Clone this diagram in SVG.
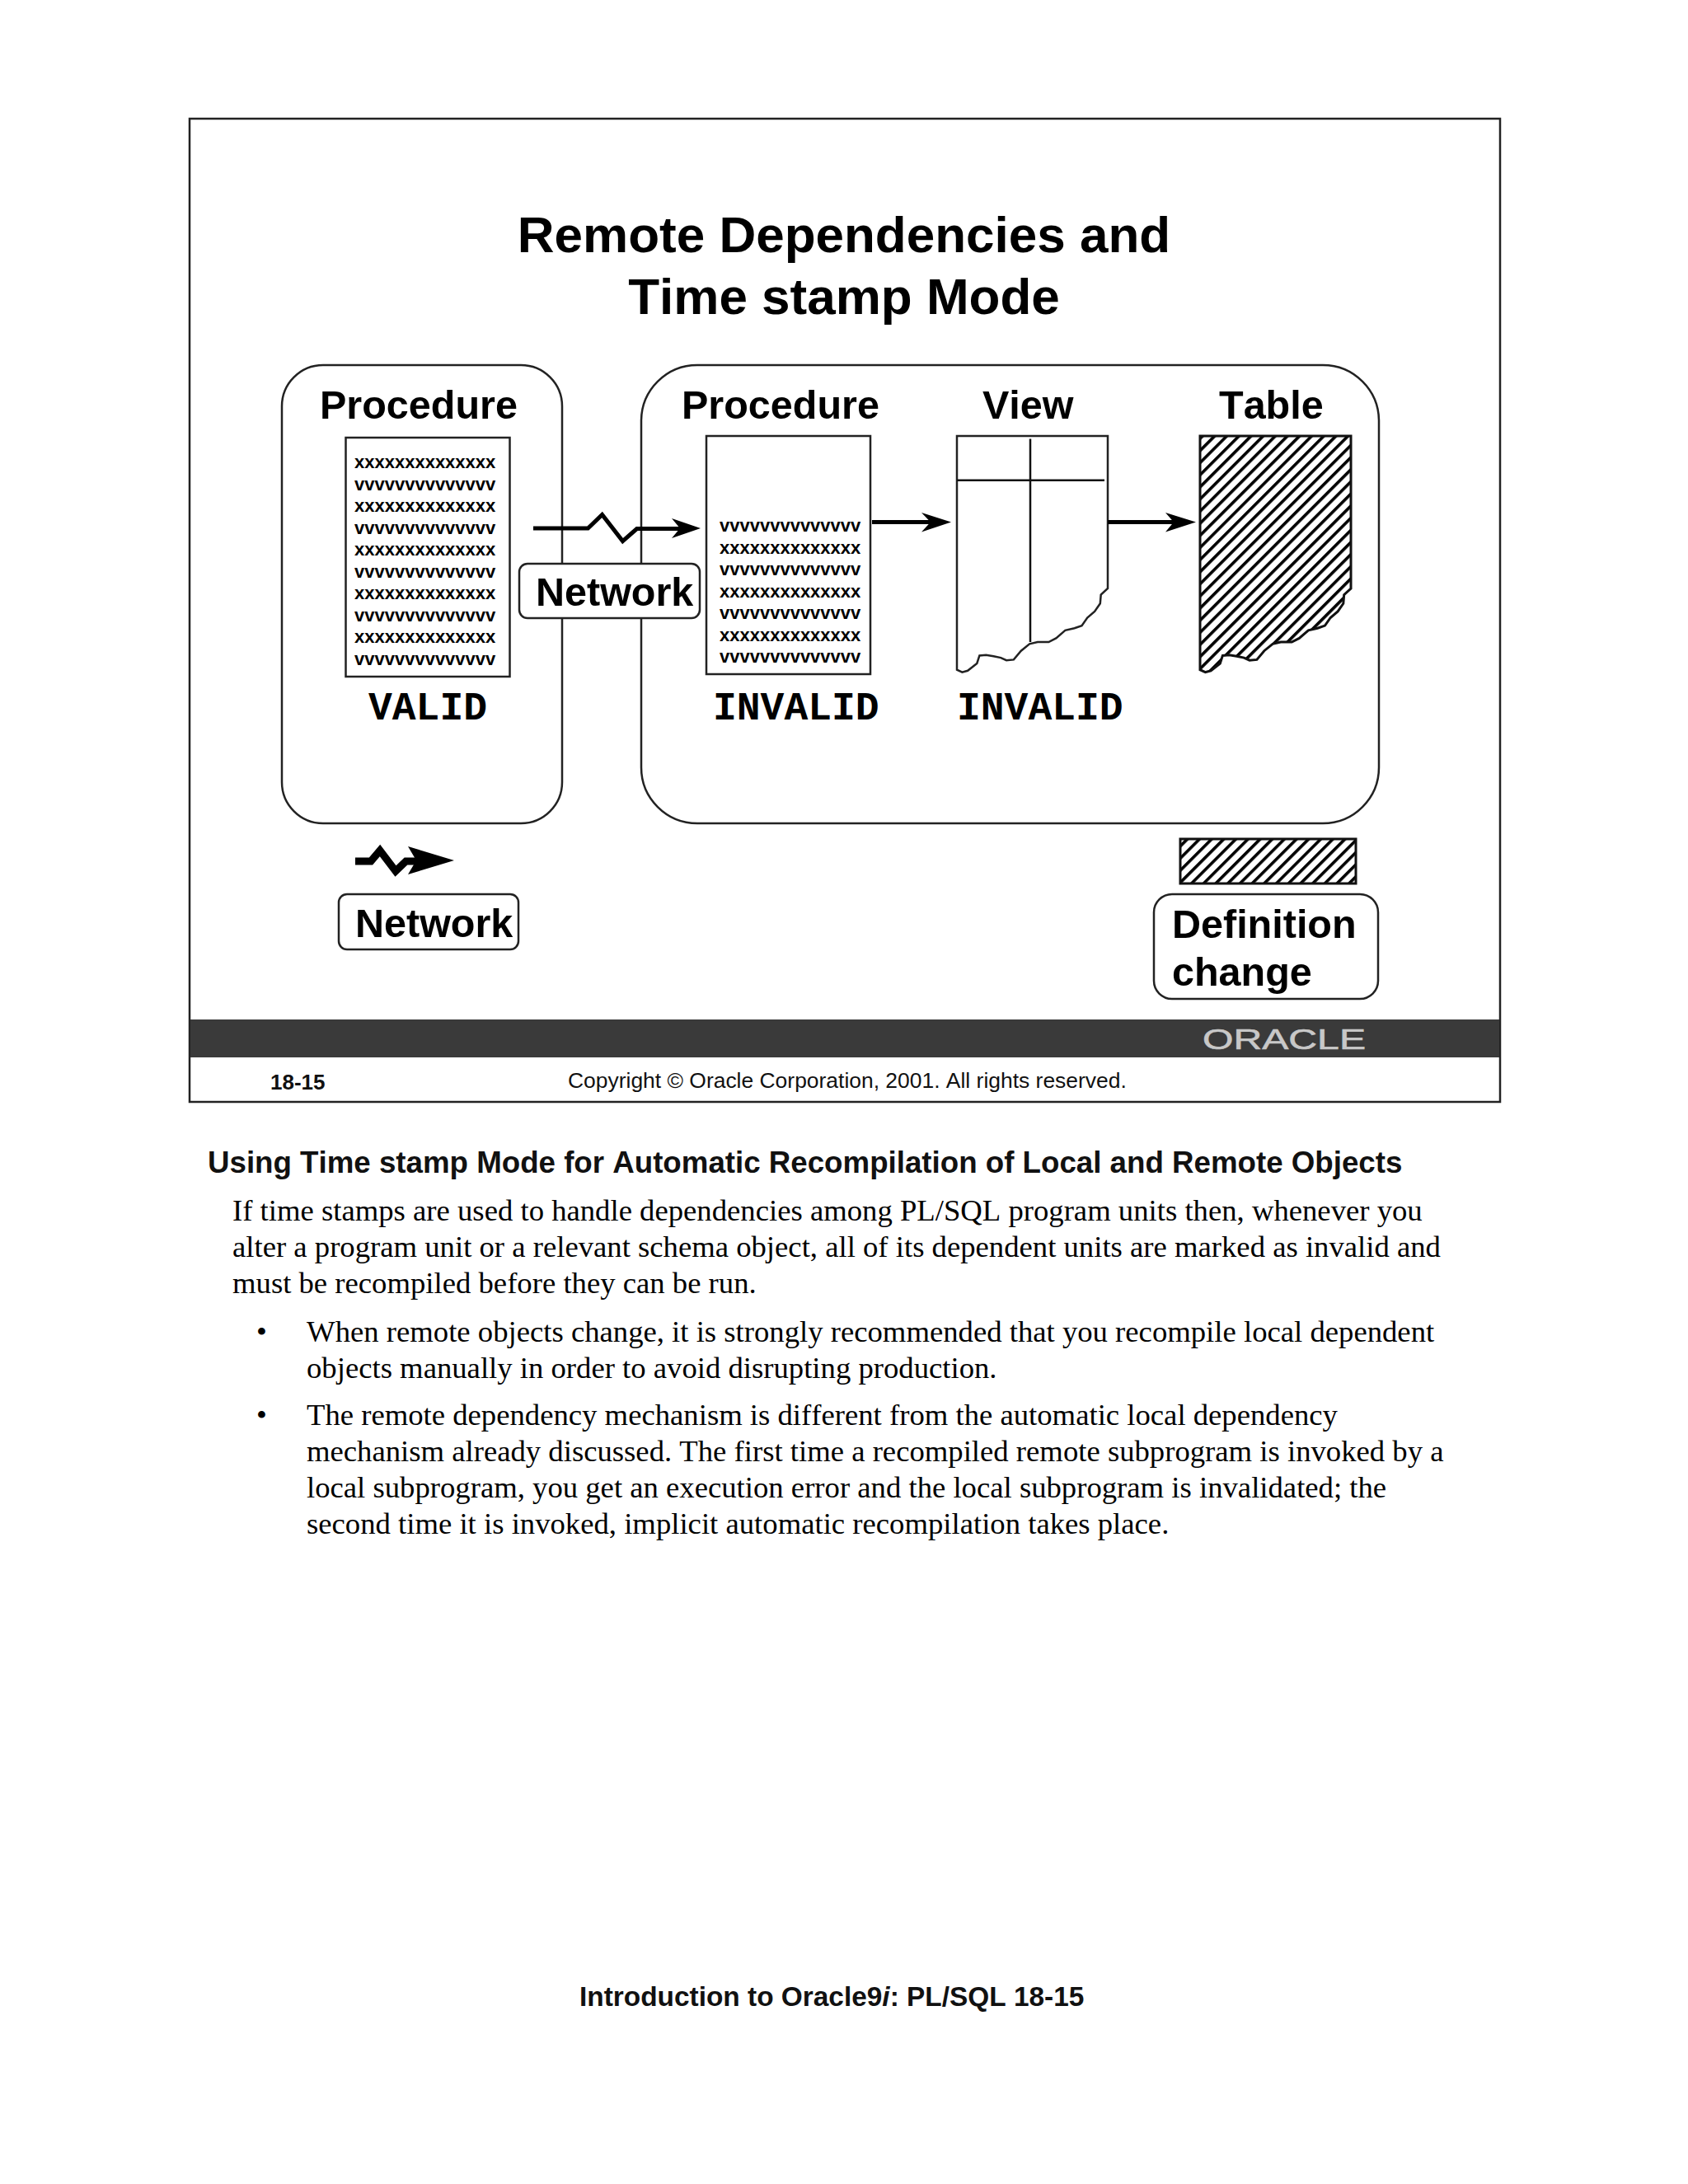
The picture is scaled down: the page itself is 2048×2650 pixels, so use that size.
<svg xmlns="http://www.w3.org/2000/svg" width="2048" height="2650" viewBox="0 0 2048 2650">
<style>
text{font-kerning:none}
.a{font-family:"Liberation Sans",Arial,sans-serif}
.b{font-weight:bold}
.h{font-size:48.5px;font-weight:bold;font-family:"Liberation Sans",Arial,sans-serif;fill:#000}
.t{font-size:62px;font-weight:bold;text-anchor:middle;font-family:"Liberation Sans",Arial,sans-serif}
.m{font-size:48px;font-weight:bold;font-family:"Liberation Mono","Courier New",monospace}
.c{font-size:22px;font-weight:bold;font-family:"Liberation Sans",Arial,sans-serif}
.s{font-size:36.7px;font-family:"Liberation Serif","Times New Roman",serif}
.box{fill:#fff;stroke:#222;stroke-width:2.5}
.doc{fill:#fff;stroke:#222;stroke-width:2.5}
.ln{fill:none;stroke:#000;stroke-width:5}
.ah{fill:#000}
.hat{fill:url(#hatch);stroke:#111;stroke-width:3}
</style>
<defs>
<pattern id="hatch" patternUnits="userSpaceOnUse" width="10.4" height="10.4" patternTransform="rotate(-45)">
<rect width="10.4" height="10.4" fill="#fff"/><rect width="10.4" height="3.6" fill="#000"/>
</pattern>
</defs>
<rect width="2048" height="2650" fill="#fff"/>
<g id="slide">
<rect x="230" y="144" width="1590" height="1193" fill="#fff" stroke="#222" stroke-width="2.5"/>
<rect x="231" y="1237" width="1588" height="46" fill="#3a3a3a"/>
<text x="1459" y="1273" class="a" font-size="35" fill="#c8c8c8" stroke="#c8c8c8" stroke-width="0.6" textLength="198" lengthAdjust="spacingAndGlyphs">ORACLE</text>
<text x="328" y="1322" class="a b" font-size="26" fill="#111">18-15</text>
<text x="689" y="1320" class="a" font-size="26.45" fill="#111">Copyright © Oracle Corporation, 2001. All rights reserved.</text>
<text x="1024" y="306" class="t">Remote Dependencies and</text>
<text x="1024" y="381" class="t">Time stamp Mode</text>
</g>
<g id="local-group">
<rect x="342" y="443" width="340" height="556" rx="50" class="box"/>
<text x="388" y="508" class="h">Procedure</text>
</g>
<g id="remote-group">
<rect x="778" y="443" width="895" height="556" rx="68" class="box"/>
<text x="827" y="508" class="h">Procedure</text>
<text x="1192" y="508" class="h">View</text>
<text x="1479" y="508" class="h">Table</text>
</g>
<g id="local-procedure">
<rect x="419.500" y="531" width="199" height="290" class="doc"/>
<text x="430" y="568" class="c">xxxxxxxxxxxxxx</text>
<text x="430" y="594.500" class="c">vvvvvvvvvvvvvv</text>
<text x="430" y="621" class="c">xxxxxxxxxxxxxx</text>
<text x="430" y="647.500" class="c">vvvvvvvvvvvvvv</text>
<text x="430" y="674" class="c">xxxxxxxxxxxxxx</text>
<text x="430" y="700.500" class="c">vvvvvvvvvvvvvv</text>
<text x="430" y="727" class="c">xxxxxxxxxxxxxx</text>
<text x="430" y="753.500" class="c">vvvvvvvvvvvvvv</text>
<text x="430" y="780" class="c">xxxxxxxxxxxxxx</text>
<text x="430" y="806.500" class="c">vvvvvvvvvvvvvv</text>
<text x="447" y="873" class="m">VALID</text>
</g>
<g id="remote-procedure">
<rect x="857" y="529" width="199" height="289" class="doc"/>
<text x="873" y="645" class="c">vvvvvvvvvvvvvv</text>
<text x="873" y="671.500" class="c">xxxxxxxxxxxxxx</text>
<text x="873" y="698" class="c">vvvvvvvvvvvvvv</text>
<text x="873" y="724.500" class="c">xxxxxxxxxxxxxx</text>
<text x="873" y="751" class="c">vvvvvvvvvvvvvv</text>
<text x="873" y="777.500" class="c">xxxxxxxxxxxxxx</text>
<text x="873" y="804" class="c">vvvvvvvvvvvvvv</text>
<text x="865" y="873" class="m">INVALID</text>
</g>
<g id="view">
<path class="doc" d="M1161 529H1344V714L1335.700 721.600 1334.800 732.300 1328.100 741.900 1319.200 749.500 1312.500 759.100 1303.600 762.200 1292.400 764.900 1281.300 774.400 1272.300 779 1258.900 779 1249.100 781.300 1238.800 789.700 1229.900 800.400 1221 801.200 1214.300 798.100 1205.400 796.200 1196.400 794.700 1188.400 795.400 1185.300 805 1174.100 813.800 1167.400 815.700 1161 812.700Z"/>
<path d="M1250 532.500V779M1161 582.700H1340" fill="none" stroke="#111" stroke-width="2.500"/>
<text x="1161" y="873" class="m">INVALID</text>
</g>
<g id="table">
<path class="hat" d="M1456 529H1639V714L1630.700 721.600 1629.800 732.300 1623.100 741.900 1614.200 749.500 1607.500 759.100 1598.600 762.200 1587.400 764.900 1576.300 774.400 1567.300 779 1553.900 779 1544.100 781.300 1533.800 789.700 1524.900 800.400 1516 801.200 1509.300 798.100 1500.400 796.200 1491.400 794.700 1483.400 795.400 1480.300 805 1469.100 813.800 1462.400 815.700 1456 812.700Z"/>
</g>
<g id="connectors">
<path class="ln" d="M647 641H713.400L730.600 624.400 755.500 656.600 772.700 641.600H825"/>
<path class="ah" d="M850 641L815 629 825 641 815 653Z"/>
<path class="ln" d="M1058 633.600H1129"/>
<path class="ah" d="M1154 633.600L1118 622 1129 633.600 1118 645.500Z"/>
<path class="ln" d="M1344 633.600H1424"/>
<path class="ah" d="M1451 633.600L1414 622 1424 633.600 1414 645.500Z"/>
</g>
<g id="network-label">
<rect x="630" y="684" width="219" height="66" rx="10" class="box"/>
<text x="650" y="735" class="h">Network</text>
</g>
<g id="legend-network">
<path d="M431 1045H450L461 1032 480 1057 492.500 1045H510" fill="none" stroke="#000" stroke-width="9"/>
<path class="ah" d="M551 1044L495 1027 505 1044 495 1061Z"/>
<rect x="411" y="1085" width="218" height="67" rx="10" class="box"/>
<text x="431" y="1137" class="h">Network</text>
</g>
<g id="legend-definition">
<rect x="1432" y="1018" width="213" height="54" class="hat"/>
<rect x="1400" y="1085" width="272" height="127" rx="22" class="box"/>
<text x="1422" y="1138" class="h">Definition</text>
<text x="1422" y="1196" class="h">change</text>
</g>
<g id="notes">
<text x="252" y="1423" class="a b" font-size="36.700" fill="#111">Using Time stamp Mode for Automatic Recompilation of Local and Remote Objects</text>
<text x="282" y="1481" class="s">If time stamps are used to handle dependencies among PL/SQL program units then, whenever you</text>
<text x="282" y="1525" class="s">alter a program unit or a relevant schema object, all of its dependent units are marked as invalid and</text>
<text x="282" y="1569" class="s">must be recompiled before they can be run.</text>
<text x="311" y="1628" class="s">•</text>
<text x="372" y="1628" class="s">When remote objects change, it is strongly recommended that you recompile local dependent</text>
<text x="372" y="1672" class="s">objects manually in order to avoid disrupting production.</text>
<text x="311" y="1729" class="s">•</text>
<text x="372" y="1729" class="s">The remote dependency mechanism is different from the automatic local dependency</text>
<text x="372" y="1773" class="s">mechanism already discussed. The first time a recompiled remote subprogram is invoked by a</text>
<text x="372" y="1817" class="s">local subprogram, you get an execution error and the local subprogram is invalidated; the</text>
<text x="372" y="1861" class="s">second time it is invoked, implicit automatic recompilation takes place.</text>
<text x="703" y="2434" class="a b" font-size="33.400" fill="#111">Introduction to Oracle9<tspan font-style="italic">i</tspan>: PL/SQL 18-15</text>
</g>
</svg>
